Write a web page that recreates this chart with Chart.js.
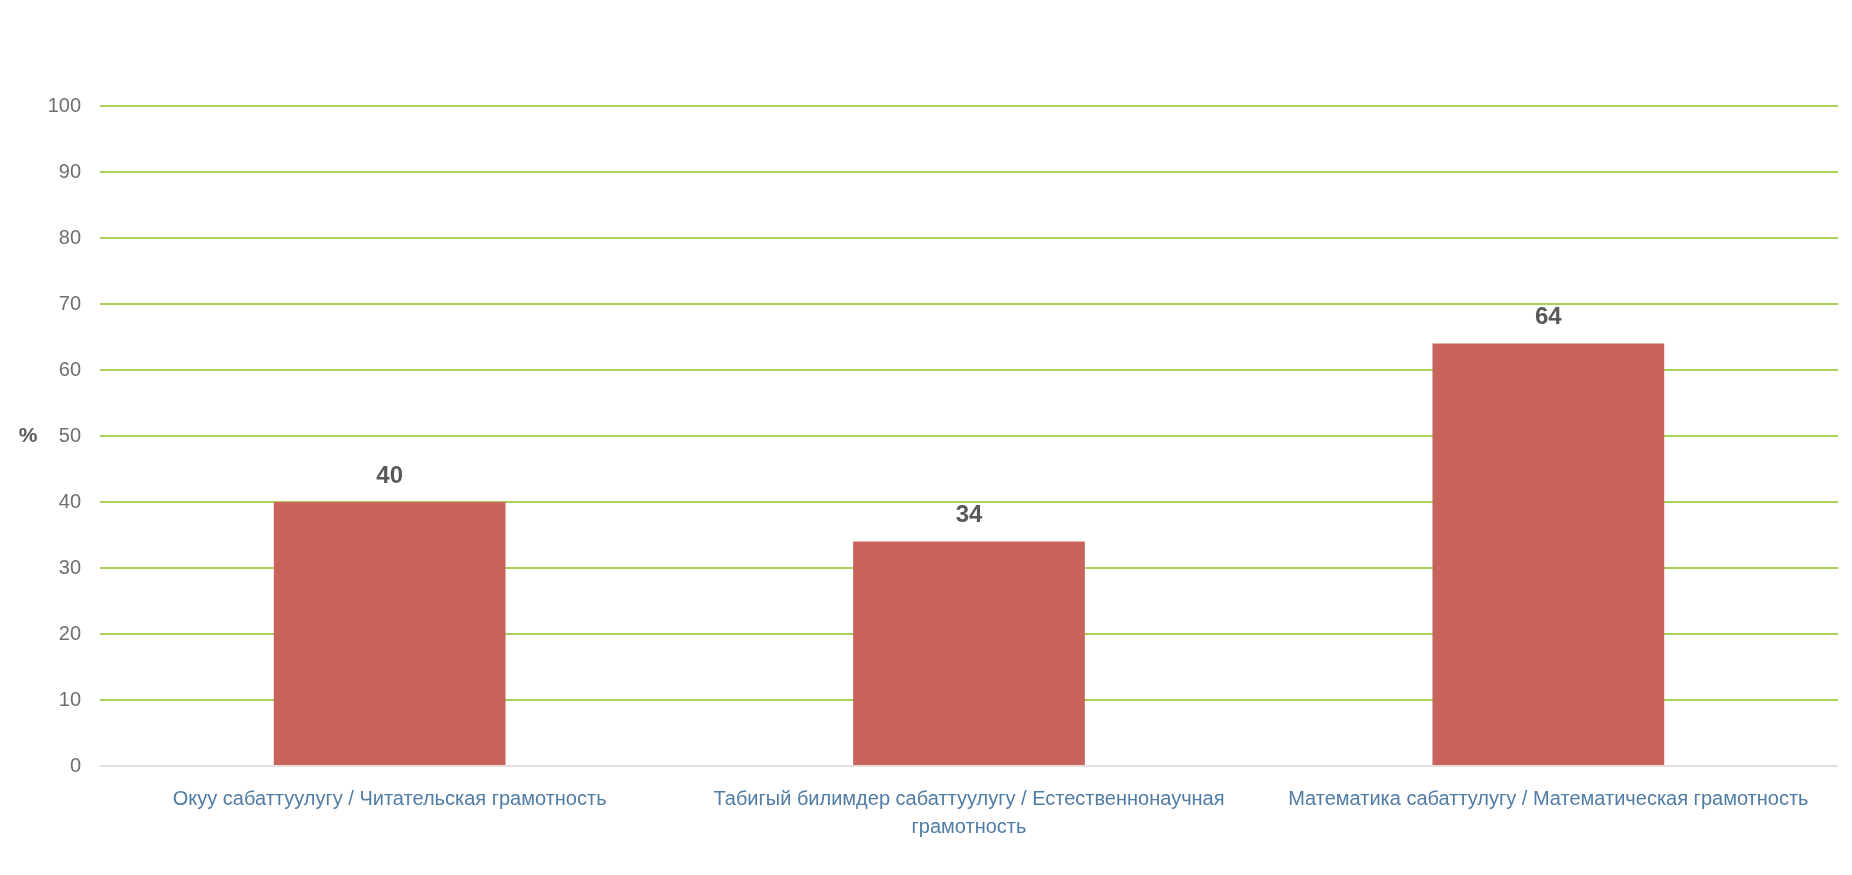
<!DOCTYPE html>
<html>
<head>
<meta charset="utf-8">
<script src="https://cdn.jsdelivr.net/npm/chart.js@4"></script>
<style>
  html, body { margin:0; padding:0; background:#fff; }
  #wrap { width:1852px; height:875px; position:relative; }
</style>
</head>
<body>
<div id="wrap"><canvas id="chartMain"></canvas></div>
<script>
// data
const categories = [
    'Окуу сабаттуулугу / Читательская грамотность',
    ['Табигый билимдер сабаттуулугу / Естественнонаучная', 'грамотность'],
    'Математика сабаттулугу / Математическая грамотность'
];
const values = [40, 34, 64];
const yMin = 0, yMax = 100, yStep = 10;
const unitLabel = '%';

// value labels above bars + % sign
const barLabels = {
    id: 'barLabels',
    afterDatasetsDraw(chart) {
        const ctx = chart.ctx;
        ctx.save();
        ctx.fillStyle = '#595959';
        ctx.font = 'bold 24px "Liberation Sans", sans-serif';
        ctx.textAlign = 'center';
        ctx.textBaseline = 'middle';
        chart.getDatasetMeta(0).data.forEach((bar, i) => {
            ctx.fillText(values[i], bar.x, bar.y - 26);
        });
        const y = chart.scales.y.getPixelForValue(50);
        ctx.font = 'bold 21px "Liberation Sans", sans-serif';
        ctx.fillText(unitLabel, 28, y);
        ctx.restore();
    }
};

const ctxMain = document.getElementById('chartMain').getContext('2d');
new Chart(ctxMain, {
    type: 'bar',
    data: {
        labels: categories,
        datasets: [{ data: values, backgroundColor: '#c9645c', categoryPercentage: 1, barPercentage: 0.4 }]
    },
    options: {
        responsive: true, maintainAspectRatio: false, animation: false,
        layout: { padding: { top: 106, right: 14, left: 0, bottom: 0 } },
        plugins: { legend: { display: false }, tooltip: { enabled: false } },
        scales: {
            x: {
                grid: { display: false },
                border: { display: false },
                afterFit: s => { s.height = 109; },
                ticks: { color: '#4f7ca5', padding: 11, maxRotation: 0, autoSkip: false,
                    font: { family: '"Liberation Sans", sans-serif', size: 20, lineHeight: 1.4 } }
            },
            y: {
                min: yMin, max: yMax,
                afterFit: s => { s.width = 100; },
                border: { display: false },
                grid: { drawTicks: false, lineWidth: 2, color: c => c.tick.value === 0 ? '#e3dfdf' : '#a9d05a' },
                ticks: { stepSize: yStep, color: '#6f6f6f', padding: 19,
                    font: { family: '"Liberation Sans", sans-serif', size: 20 } }
            }
        }
    },
    plugins: [barLabels]
});
</script>
</body>
</html>
